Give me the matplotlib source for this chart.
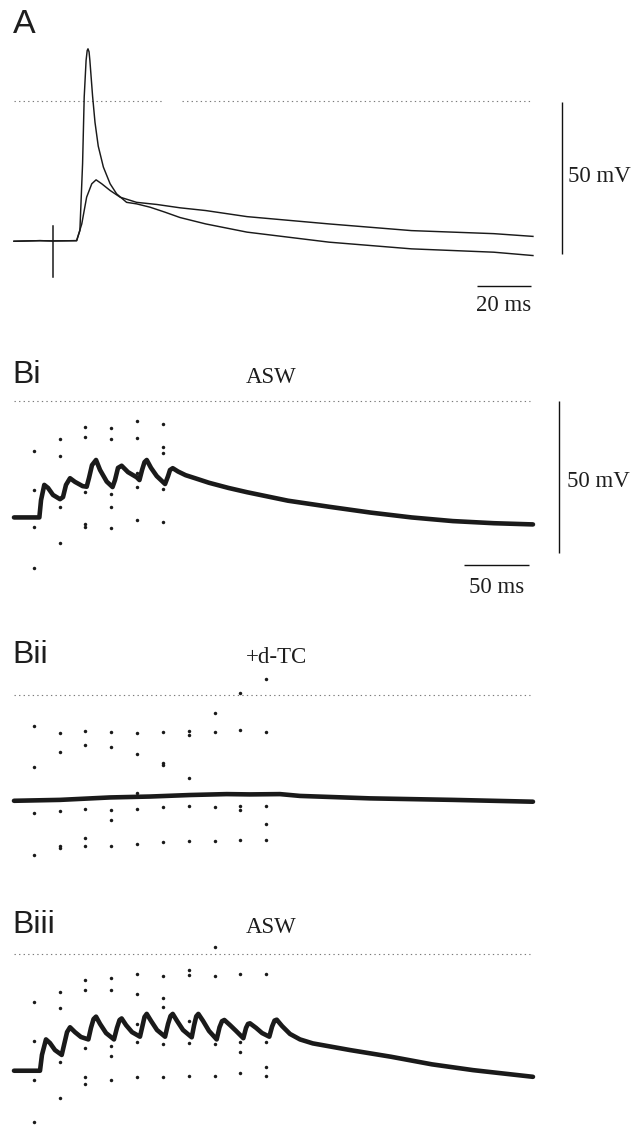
import matplotlib
matplotlib.use("Agg")
import matplotlib.pyplot as plt

# ---------------- data (ms, mV) ----------------
# Panel A: two single-shock responses (spike and subthreshold)
A_spike_t = [0, 9.6, 14.0, 23.2, 24.4, 25.4, 26.0, 26.7, 27.1, 27.4, 27.8, 28.1, 29.1, 30.0, 31.2,
             33.1, 35.6, 38.0, 41.7, 45.4, 50.4, 55.8, 61.5, 71.0, 86.3, 116.7,
             147.2, 177.7, 192.2]
A_spike_v = [-46.3, -46.1, -46.2, -46.1, -42.8, -20.8, 1.1, 13.2, 16.4, 17.0, 16.0, 13.2, 1.5, -7.2, -15.0,
             -21.9, -27.4, -30.7, -33.5, -34.0, -35.1, -36.7, -38.5, -40.6, -43.3, -46.6,
             -48.8, -49.9, -51.0]
A_sub_t = [0, 9.6, 14.0, 23.2, 25.1, 26.9, 28.8, 30.4, 32.5, 35.6, 39.3, 45.4, 52.9,
           61.5, 71.0, 86.3, 116.7, 147.2, 177.7, 192.2]
A_sub_v = [-46.3, -46.1, -46.2, -46.1, -40.6, -31.8, -27.4, -26.1, -27.4, -29.6, -31.8, -33.5, -34.2,
           -35.3, -36.2, -38.2, -40.6, -42.8, -43.8, -44.7]
A_artifact_t = 14.6
A_artifact_v = [-41.4, -58.1]
A_ref_segments = [(0, 55.7), (62.2, 191.5)]   # 0 mV dotted reference

# Panel Bi: ASW, 6 stimuli
Bi_t = [0, 19.5, 20.8, 23.3, 26.2, 30.0, 35.4, 37.7, 40.0, 43.1, 46.9, 52.8, 55.9, 57.7, 60.0,
        63.1, 66.2, 71.3, 75.8, 77.7, 80.0, 82.8, 87.7, 94.4, 96.5, 98.5, 100.4, 102.1,
        105.4, 109.8, 116.2, 118.5, 120.0, 122.1, 126.2, 132.0, 140.0, 150.0, 165.0, 179.2,
        210.8, 242.5, 274.2, 305.8, 337.5, 369.1, 399.2]
Bi_v = [-38.3, -38.3, -32.6, -27.6, -28.6, -30.9, -32.3, -31.6, -27.6, -25.4, -26.6, -28.0, -28.2, -25.3, -21.1,
        -19.4, -22.7, -26.5, -28.3, -26.0, -22.0, -21.3, -23.4, -25.1, -26.0, -22.7, -20.1, -19.4,
        -22.0, -24.7, -27.3, -24.7, -22.7, -22.1, -23.2, -24.4, -25.5, -26.9, -28.6, -30.0,
        -32.8, -34.8, -36.7, -38.3, -39.5, -40.2, -40.6]
Bi_stim_t = [15.2, 35.2, 54.8, 74.6, 94.6, 114.6]
Bi_dots_v = [[-16.3, -29.3, -41.3, -54.8],
             [-12.4, -18.0, -35.0, -46.7],
             [-8.5, -11.7, -29.8, -40.6, -41.3],
             [-8.8, -12.4, -30.5, -34.8, -41.7],
             [-6.6, -12.3, -23.6, -28.2, -39.0],
             [-7.5, -15.0, -17.2, -28.8, -39.8]]

# Panel Bii: +d-TC, 10 stimuli
Bii_t = [0, 35.4, 73.8, 104.6, 135.4, 163.6, 181.5, 204.6, 220.0, 273.8, 337.5, 399.2]
Bii_v = [-34.8, -34.5, -33.7, -33.4, -32.9, -32.6, -32.7, -32.6, -33.2, -34.0, -34.5, -35.1]
B_stim_t = [15.2, 35.2, 54.8, 74.6, 94.6, 114.6, 134.4, 154.4, 174.1, 193.8]
Bii_dots_v = [[-10.1, -23.8, -38.7, -52.7],
              [-12.4, -18.7, -38.1, -49.6, -50.2],
              [-11.9, -16.4, -37.6, -46.9, -49.8],
              [-12.2, -17.0, -37.7, -41.0, -49.6],
              [-12.5, -19.5, -32.1, -37.5, -49.0],
              [-12.2, -22.5, -23.1, -36.9, -48.5],
              [-11.9, -13.1, -27.3, -36.6, -47.9],
              [-5.8, -12.2, -36.8, -48.0],
              [0.6, -11.6, -36.5, -37.8, -47.8],
              [5.2, -12.3, -36.6, -42.5, -47.6]]

# Panel Biii: ASW wash, 10 stimuli
Biii_t = [0, 20.0, 21.5, 24.6, 27.7, 31.5, 36.7, 38.5, 40.8, 43.1, 46.9, 51.5, 57.2, 59.2, 61.2,
          63.1, 66.2, 70.8, 76.9, 79.2, 81.2, 82.8, 86.2, 90.8, 96.9, 98.8, 100.4, 102.1,
          105.4, 110.0, 116.2, 118.5, 120.4, 122.1, 125.4, 130.0, 136.7, 138.5, 140.2, 141.8,
          145.4, 150.0, 155.9, 158.1, 160.0, 161.8, 166.2, 170.8, 176.4, 178.5, 180.0, 181.5,
          186.2, 190.8, 196.4, 198.5, 200.4, 202.1, 206.2, 212.3, 220.0, 229.8, 258.5,
          290.0, 321.5, 353.1, 399.2]
Biii_v = [-38.3, -38.3, -33.1, -28.0, -29.2, -31.5, -33.1, -29.8, -25.6, -24.0, -25.6, -27.2, -28.0, -24.2, -21.3,
          -20.5, -22.9, -25.9, -28.0, -24.2, -21.6, -21.1, -23.3, -25.6, -27.1, -23.6, -20.6, -19.6,
          -21.9, -24.9, -27.1, -22.9, -20.3, -19.6, -21.9, -24.9, -27.3, -23.4, -20.4, -19.6,
          -21.9, -25.2, -28.0, -24.0, -22.0, -21.6, -23.3, -25.2, -27.6, -24.2, -22.9, -22.7,
          -24.2, -25.9, -27.1, -23.8, -21.8, -21.5, -23.6, -26.2, -28.0, -29.3, -31.5,
          -33.7, -36.2, -38.1, -40.3]
Biii_dots_v = [[-15.8, -28.5, -41.3, -55.1],
               [-12.3, -17.8, -35.4, -47.2],
               [-8.4, -11.7, -30.8, -40.3, -42.7],
               [-7.9, -11.6, -30.2, -33.4, -41.4],
               [-6.5, -13.2, -23.0, -28.8, -40.3],
               [-7.1, -14.3, -17.4, -29.4, -40.4],
               [-5.2, -6.8, -21.9, -29.3, -39.9],
               [2.5, -7.0, -29.4, -39.9],
               [-6.4, -28.8, -32.1, -39.1],
               [-6.6, -28.8, -37.1, -39.9]]
B_ref_span = (0, 397)

scale_mV = 50
scale_ms_A = 20
scale_ms_B = 50

# ---------------- layout ----------------
W, H = 644, 1128
DPI = 100
fig = plt.figure(figsize=(W / DPI, H / DPI), dpi=DPI)
fig.patch.set_facecolor("white")
PX_MV = 3.04

SANS = ["Liberation Sans", "DejaVu Sans"]
SERIF = ["Liberation Serif", "DejaVu Serif"]
TRACE = "#1a1a1a"
DOTC = "#7a7a7a"
B_LW = 3.3


def make_axes(top, bottom, x0, pxms, y0):
    ax = fig.add_axes([0, 1 - bottom / H, 1, (bottom - top) / H])
    ax.set_xlim(-x0 / pxms, (W - x0) / pxms)
    ax.set_ylim((y0 - bottom) / PX_MV, (y0 - top) / PX_MV)
    ax.axis("off")
    ax.px = lambda x, y: ((x - x0) / pxms, (y0 - y) / PX_MV)
    return ax


def ftext(x, y, s, family, size, **kw):
    fig.text(x / W, 1 - y / H, s, family=family, fontsize=size, color="#1e1e1e",
             va="baseline", **kw)


def ref_line(ax, t0, t1):
    ax.plot([t0, t1], [0, 0], color=DOTC, lw=0.8, linestyle=(0, (1.2, 2.9)),
            solid_capstyle="butt", dash_capstyle="butt", zorder=1)


def dots(ax, stim_t, cols):
    for t, vs in zip(stim_t, cols):
        ax.plot([t] * len(vs), vs, "o", ms=2.5, mfc="#1a1a1a", mec="none", zorder=3)


def vbar(ax, xpx, ytop_px, value):
    t, v0 = ax.px(xpx, ytop_px)
    ax.plot([t, t], [v0, v0 - value], color="#111", lw=1.0, solid_capstyle="butt")


def hbar(ax, xright_px, ypx, value):
    t1, v = ax.px(xright_px, ypx)
    ax.plot([t1 - value, t1], [v, v], color="#111", lw=1.0, solid_capstyle="butt")


def btrace(ax, t, v):
    ax.plot(t, v, color=TRACE, lw=B_LW, zorder=2, solid_joinstyle="round",
            solid_capstyle="round")


# Panel A
axA = make_axes(0, 330, 14, 2.7, 100.5)
for a, b in A_ref_segments:
    ref_line(axA, a, b)
axA.plot(A_spike_t, A_spike_v, color=TRACE, lw=1.05, zorder=2, solid_joinstyle="round")
axA.plot(A_sub_t, A_sub_v, color=TRACE, lw=1.05, zorder=2, solid_joinstyle="round")
axA.plot([A_artifact_t, A_artifact_t], A_artifact_v, color=TRACE, lw=1.1, zorder=2)
vbar(axA, 562, 101.5, scale_mV)
hbar(axA, 530.7, 285.7, scale_ms_A)
ftext(13, 33.3, "A", SANS, 24.5)
ftext(568, 181.7, f"{scale_mV} mV", SERIF, 16.5)
ftext(503.5, 310.7, f"{scale_ms_A} ms", SERIF, 16.5, ha="center")

# Panel Bi
axBi = make_axes(330, 610, 14, 1.3, 401)
ref_line(axBi, *B_ref_span)
btrace(axBi, Bi_t, Bi_v)
dots(axBi, Bi_stim_t, Bi_dots_v)
vbar(axBi, 558.5, 401, scale_mV)
hbar(axBi, 529, 565, scale_ms_B)
ftext(12, 383, "Bi", SANS, 23)
ftext(246, 383, "ASW", SERIF, 16.5)
ftext(567, 487, f"{scale_mV} mV", SERIF, 16.5)
ftext(496.5, 593.3, f"{scale_ms_B} ms", SERIF, 16.5, ha="center")

# Panel Bii
axBii = make_axes(610, 880, 14, 1.3, 695)
ref_line(axBii, *B_ref_span)
btrace(axBii, Bii_t, Bii_v)
dots(axBii, B_stim_t, Bii_dots_v)
ftext(12, 663, "Bii", SANS, 23)
ftext(246, 663, "+d-TC", SERIF, 16.5)

# Panel Biii
axBiii = make_axes(880, 1128, 14, 1.3, 954.3)
ref_line(axBiii, *B_ref_span)
btrace(axBiii, Biii_t, Biii_v)
dots(axBiii, B_stim_t, Biii_dots_v)
ftext(12, 933, "Biii", SANS, 23)
ftext(246, 933, "ASW", SERIF, 16.5)

fig.savefig("out.png", dpi=DPI, facecolor="white")
